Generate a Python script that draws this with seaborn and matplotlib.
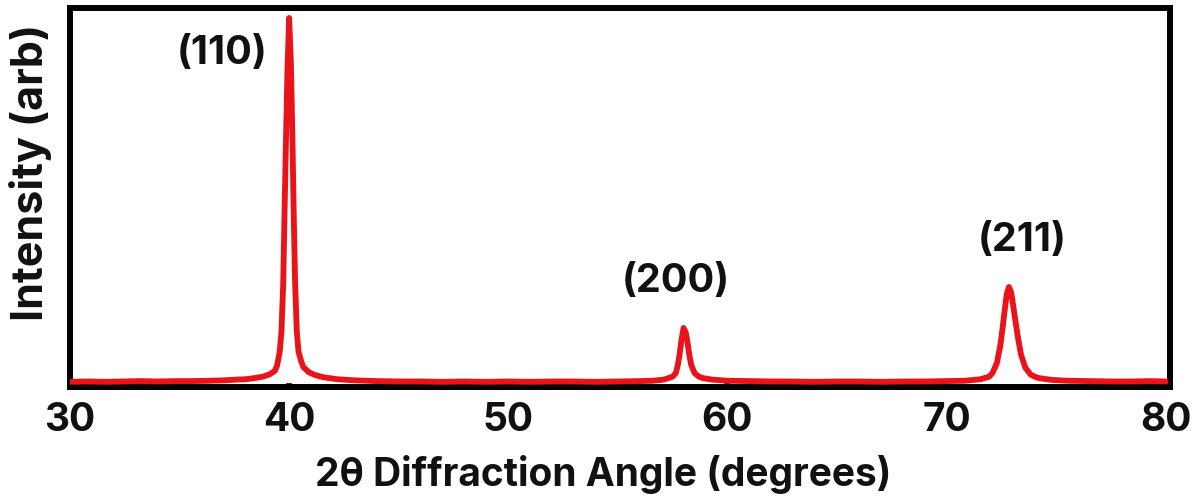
import matplotlib
matplotlib.use("Agg")
import matplotlib.pyplot as plt
import seaborn as sns
import pandas as pd

# ---- data (2-theta in degrees, intensity in arbitrary counts) ----
two_theta = [30.0, 30.8, 31.6, 32.4, 33.2, 34.0, 34.8, 35.6, 36.4, 37.0, 37.6, 38.0, 38.4, 38.8, 39.1, 39.35,
             39.45, 39.57, 39.65, 39.73, 39.8, 39.85, 39.92, 40.0, 40.08, 40.15, 40.2, 40.27, 40.35, 40.43,
             40.55, 40.65, 40.9, 41.2, 41.6, 42.2, 43.0, 44.0, 45.0, 46.0, 47.0, 48.0, 49.0, 50.0, 51.0,
             52.0, 53.0, 54.0, 55.0, 56.0, 56.6, 57.1, 57.3, 57.5, 57.65, 57.74, 57.82, 57.9, 58.0, 58.1,
             58.18, 58.26, 58.35, 58.5, 58.7, 58.9, 59.3, 60.0, 61.0, 62.0, 63.0, 64.0, 65.0, 66.0, 67.0,
             68.0, 69.0, 70.0, 70.85, 71.55, 71.95, 72.1, 72.3, 72.45, 72.55, 72.65, 72.75, 72.85, 72.95,
             73.05, 73.15, 73.25, 73.4, 73.6, 73.85, 74.15, 74.45, 74.85, 75.5, 76.5, 77.5, 78.5, 79.3, 80.0]
intensity = [14, 15, 14, 15, 16, 15, 16, 16, 17, 18, 20, 21, 24, 28, 34, 44,
             58, 95, 150, 280, 500, 650, 850, 1000, 880, 680, 500, 290, 150, 95,
             70, 54, 40, 32, 26, 21, 18, 16, 15, 15, 14, 15, 14, 15, 14,
             15, 15, 14, 15, 16, 17, 20, 24, 28, 38, 60, 88, 125, 160, 148,
             122, 88, 60, 38, 28, 24, 20, 17, 16, 15, 15, 14, 15, 15, 14,
             15, 15, 16, 17, 21, 28, 38, 65, 110, 155, 205, 252, 271, 257,
             218, 178, 138, 88, 52, 33, 25, 22, 19, 17, 16, 15, 15, 16, 15]
peak_labels = ["(110)", "(200)", "(211)"]
peak_label_x = [36.95, 57.65, 73.45]
peak_label_y = [905, 285, 398]
x_ticks = [30, 40, 50, 60, 70, 80]

df = pd.DataFrame({"two_theta": two_theta, "intensity": intensity})

sns.set_theme(style="white")
plt.rcParams["font.family"] = ["Inter", "Liberation Sans", "DejaVu Sans"]
plt.rcParams["font.weight"] = "bold"

fig = plt.figure(figsize=(11.96, 4.98), dpi=100)
ax = fig.add_axes([70 / 1196, 1 - 387 / 498, 1100 / 1196, 379 / 498])

sns.lineplot(data=df, x="two_theta", y="intensity", ax=ax, color="#e8141a",
             linewidth=4.2, sort=False, estimator=None, zorder=2)

ax.set_xlim(30, 80.2)
ax.set_ylim(0, 1027)
ax.set_yticks([])
ax.set_xticks(x_ticks)
ax.set_xticklabels([str(t) for t in x_ticks], fontsize=28, fontweight="bold")
ax.tick_params(axis="x", direction="in", length=3, width=4, color="#1a1ad0", pad=11,
               bottom=True, labelcolor="#111111")

for s in ax.spines.values():
    s.set_visible(True)
    s.set_color("black")
    s.set_linewidth(4.3)
    s.set_zorder(1.5)

for lab, lx, ly in zip(peak_labels, peak_label_x, peak_label_y):
    ax.text(lx, ly, lab, ha="center", va="center", fontsize=28.5, fontweight="bold", color="#111111")

ax.set_xlabel("2θ Diffraction Angle (degrees)", fontsize=28, fontweight="bold", color="#111111")
ax.xaxis.set_label_coords(0.485, -0.232)
ax.xaxis.label.set_va("center")
ax.set_ylabel("Intensity (arb)", fontsize=31, fontweight="bold", color="#111111")
ax.yaxis.set_label_coords(-0.016, 0.565)

fig.savefig("out.png", dpi=100, facecolor="white")
